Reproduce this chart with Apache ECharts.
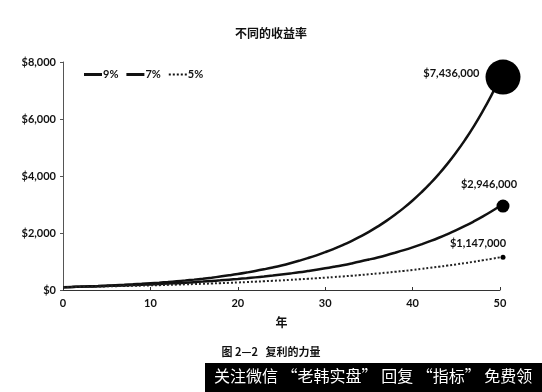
<!DOCTYPE html>
<html><head><meta charset="utf-8">
<script src="https://cdn.jsdelivr.net/npm/echarts@6/dist/echarts.min.js"></script>
<style>html,body{margin:0;padding:0;background:#fff}#c{width:542px;height:392px}</style>
</head><body><div id="c"></div>
<script>
const years = [0,1,2,3,4,5,6,7,8,9,10,11,12,13,14,15,16,17,18,19,20,21,22,23,24,25,26,27,28,29,30,31,32,33,34,35,36,37,38,39,40,41,42,43,44,45,46,47,48,49,50];
const rate9 = [100,109,119,130,141,154,168,183,199,217,237,258,281,307,334,364,397,433,472,514,560,611,666,726,791,862,940,1025,1117,1217,1327,1446,1576,1718,1873,2041,2225,2425,2644,2882,3141,3424,3732,4068,4434,4833,5268,5742,6259,6822,7436];
const rate7 = [100,107,114,123,131,140,150,161,172,184,197,210,225,241,258,276,295,316,338,362,387,414,443,474,507,543,581,621,665,711,761,815,872,933,998,1068,1142,1222,1308,1399,1497,1602,1714,1834,1963,2100,2247,2405,2573,2753,2946];
const rate5 = [100,105,110,116,122,128,134,141,148,155,163,171,180,189,198,208,218,229,241,253,265,279,293,307,323,339,356,373,392,412,432,454,476,500,525,552,579,608,639,670,704,739,776,815,856,899,943,991,1040,1092,1147];
const seriesNames = ['9%','7%','5%'];
const endLabels = ['$7,436,000','$2,946,000','$1,147,000'];
const yTicks = ['$0','$2,000','$4,000','$6,000','$8,000'];

const sans = 'Lato, "Open Sans", sans-serif';
const cjk = '"Noto Sans CJK SC", sans-serif';
const pair = a => years.map((y,i)=>[y,a[i]]);
const chart = echarts.init(document.getElementById('c'));
chart.setOption({
  animation:false,
  backgroundColor:'#fff',
  title:{text:'不同的收益率',left:'center',top:22,textStyle:{fontFamily:cjk,fontSize:12,fontWeight:'bold',color:'#111'}},
  legend:{left:79,top:64,itemWidth:18,itemHeight:3,itemGap:8,icon:'rect',
    data:[{name:seriesNames[0],icon:'rect'},{name:seriesNames[1],icon:'rect'},{name:seriesNames[2],icon:'path://M0,0h2v2h-2zM4,0h2v2h-2zM8,0h2v2h-2zM12,0h2v2h-2zM16,0h2v2h-2z'}],
    textStyle:{fontFamily:sans,fontSize:11,fontWeight:'bold',color:'#111',padding:[0,0,0,-4]}},
  grid:{left:63,right:42,top:62,bottom:102},
  xAxis:{type:'value',min:0,max:50,interval:10,name:'年',nameLocation:'middle',nameGap:26,
    nameTextStyle:{fontFamily:cjk,fontSize:12,fontWeight:'bold',color:'#111'},
    axisLine:{lineStyle:{color:'#333',width:1}},axisTick:{inside:true,length:3,lineStyle:{color:'#333'}},
    splitLine:{show:false},axisLabel:{fontFamily:sans,fontSize:11,fontWeight:'bold',color:'#111',margin:8}},
  yAxis:{type:'value',min:0,max:8000,interval:2000,
    axisLine:{show:true,lineStyle:{color:'#555',width:1}},axisTick:{show:true,length:3,lineStyle:{color:'#555'}},
    splitLine:{show:false},
    axisLabel:{fontFamily:sans,fontSize:11,fontWeight:'bold',color:'#111',margin:7,formatter:(v)=>yTicks[v/2000]}},
  series:[
    {name:seriesNames[0],type:'line',data:pair(rate9),showSymbol:false,smooth:true,lineStyle:{color:'#111',width:2.5},itemStyle:{color:'#111'},z:3},
    {name:seriesNames[1],type:'line',data:pair(rate7),showSymbol:false,smooth:true,lineStyle:{color:'#111',width:2.5},itemStyle:{color:'#111'},z:3},
    {name:seriesNames[2],type:'line',data:pair(rate5),showSymbol:false,smooth:true,lineStyle:{color:'#222',width:2,type:[2,2]},itemStyle:{color:'#111'},z:3},
    {type:'scatter',data:[[50,rate9[50]]],symbolSize:35,symbolOffset:[3,-1],itemStyle:{color:'#000',opacity:1},z:4,
      label:{show:true,position:'left',distance:6,offset:[0,-4],formatter:endLabels[0],fontFamily:sans,fontSize:11,fontWeight:'bold',color:'#111'}},
    {type:'scatter',data:[[50,rate7[50]]],symbolSize:13,symbolOffset:[3,0],itemStyle:{color:'#000',opacity:1},z:4,
      label:{show:true,position:'top',distance:10,offset:[-14,0],formatter:endLabels[1],fontFamily:sans,fontSize:11,fontWeight:'bold',color:'#111'}},
    {type:'scatter',data:[[50,rate5[50]]],symbolSize:5,symbolOffset:[3,0],itemStyle:{color:'#000',opacity:1},z:4,
      label:{show:true,position:'top',distance:6,offset:[-25,0],formatter:endLabels[2],fontFamily:sans,fontSize:11,fontWeight:'bold',color:'#111'}}
  ],
  graphic:[
    {type:'text',left:'center',top:346,style:{text:'图 2—2   复利的力量',font:'bold 11px '+cjk,fill:'#111'}},
    {type:'rect',shape:{x:205,y:363,width:337,height:29},style:{fill:'#000'}},
    {type:'text',x:214,y:368,style:{text:'关注微信 “老韩实盘” 回复 “指标” 免费领',font:'16px '+cjk,fill:'#fff'}}
  ]
});
</script></body></html>
